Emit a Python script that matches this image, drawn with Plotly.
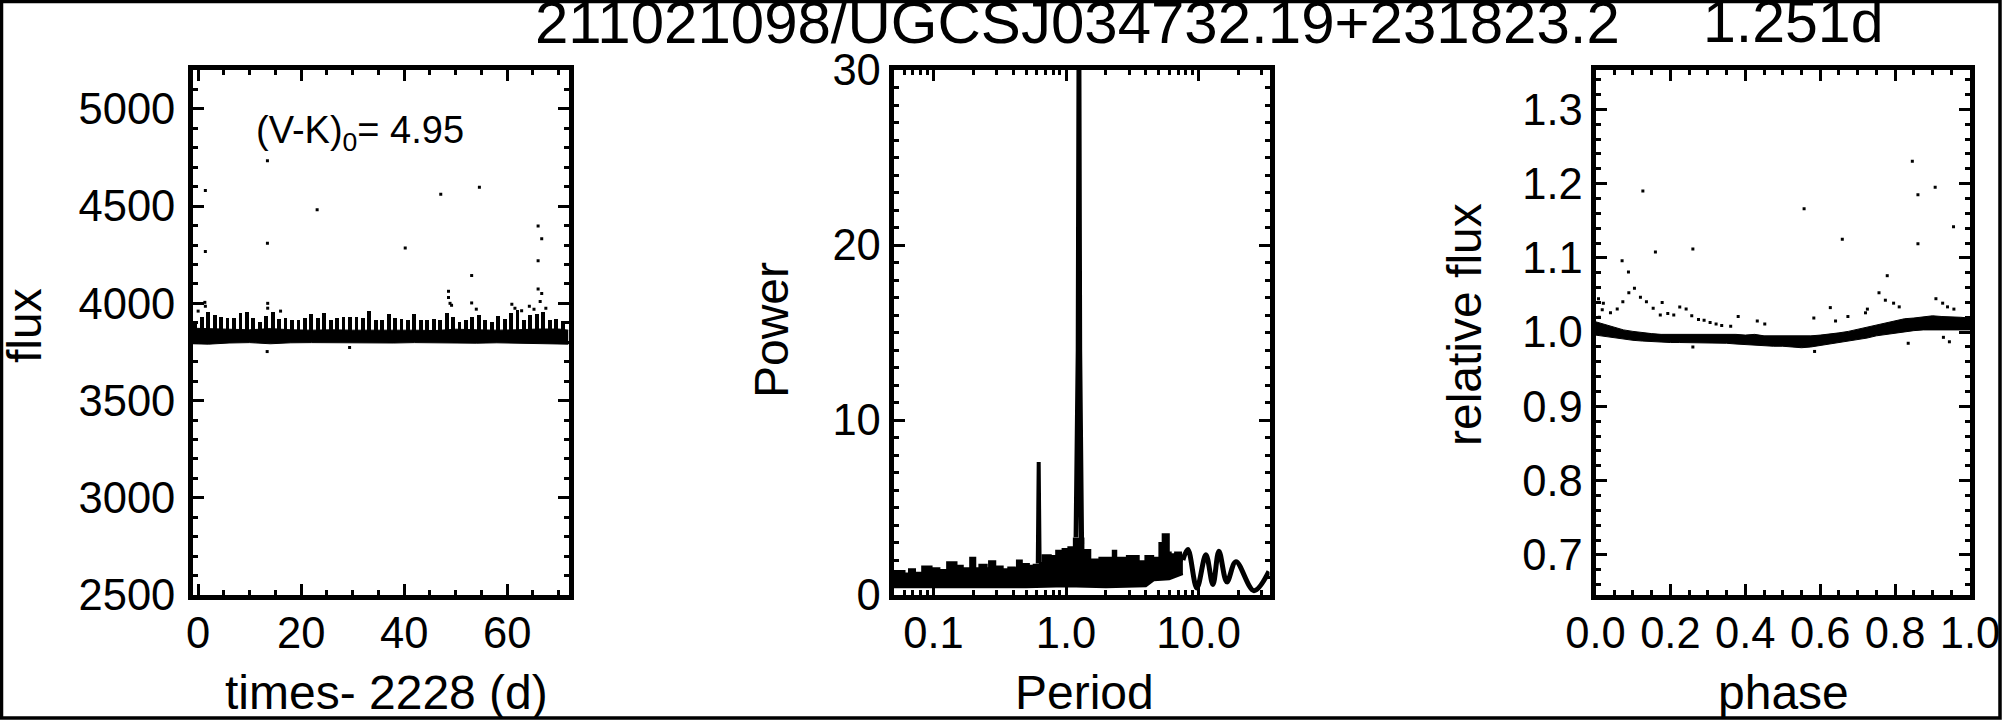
import plotly.graph_objects as go

W, H = 2005, 720
FONT = "Liberation Sans, Arial, Helvetica, sans-serif"

# ---------------- Panel 1: light curve (flux vs time) ----------------
lc_spike_time = [-0.55, 0.70, 1.95, 3.20, 4.45, 5.71, 6.96, 8.21, 9.46, 10.71,
                 11.96, 13.21, 14.46, 15.71, 16.96, 18.22, 19.47, 20.72, 21.97, 23.22,
                 24.47, 25.72, 26.97, 28.22, 29.47, 30.73, 31.98, 33.23, 34.48, 35.73,
                 36.98, 38.23, 39.48, 40.73, 41.98, 43.24, 44.49, 45.74, 46.99, 48.24,
                 49.49, 50.74, 51.99, 53.24, 54.49, 55.75, 57.00, 58.25, 59.50, 60.75,
                 62.00, 63.25, 64.50, 65.75, 67.00, 68.26, 69.51, 70.76]
lc_spike_top = [3900, 3930, 3958, 3940, 3932, 3923, 3925, 3949, 3958, 3923,
                3906, 3935, 3958, 3920, 3923, 3915, 3915, 3923, 3945, 3923,
                3949, 3915, 3925, 3932, 3932, 3932, 3923, 3963, 3915, 3915,
                3944, 3923, 3920, 3915, 3945, 3915, 3915, 3920, 3915, 3949,
                3932, 3906, 3915, 3932, 3940, 3915, 3906, 3935, 3920, 3949,
                3966, 3915, 3940, 3945, 3958, 3915, 3918, 3910]
lc_core_time = [-1.0, 2, 6, 10, 14, 18, 22, 26, 30, 34, 38, 42, 46, 50, 54, 58, 62, 66, 70, 71.9]
lc_core_high = [3872, 3870, 3866, 3864, 3870, 3864, 3862, 3864, 3862, 3862,
                3864, 3862, 3860, 3867, 3864, 3862, 3864, 3868, 3868, 3862]
lc_core_low = [3792, 3790, 3796, 3798, 3792, 3797, 3798, 3797, 3795, 3797,
               3796, 3798, 3797, 3795, 3795, 3797, 3796, 3795, 3794, 3790]
lc_out_time = [1.4, 1.4, 13.45, 13.45, 23.1, 40.2, 47.1, 54.6, 53.1, 66.0,
               66.0, 66.7, 48.6, 48.6, 53.1, 60.9, 66.0, 66.7, 66.4, 1.3,
               1.4, 13.5, 13.5, 61.5, 64.3, 65.2, 29.4, 13.4, 0.0, 16.0,
               49.2, 67.5, 62.8, 48.9, 54.0]
lc_out_flux = [4580, 4266, 4733, 4309, 4481, 4285, 4561, 4597, 4143, 4398,
               4219, 4332, 4062, 4030, 4002, 3995, 4074, 4050, 4010, 4005,
               3985, 4000, 3975, 3975, 3985, 3970, 3773, 3752, 3960, 3960,
               3990, 3975, 3962, 4000, 3970]

# ---------------- Panel 2: periodogram (power vs period) ----------------
pg_top_period = [0.050, 0.060, 0.066, 0.072, 0.083, 0.096, 0.110, 0.128, 0.148, 0.165,
                 0.184, 0.191, 0.205, 0.224, 0.250, 0.265, 0.290, 0.330, 0.370, 0.407,
                 0.430, 0.460, 0.520, 0.575, 0.640, 0.670, 0.760, 0.850, 0.950, 1.05,
                 1.155, 1.34, 1.51, 1.80, 2.27, 2.37, 2.9, 3.5, 4.0, 4.5,
                 5.1, 5.4, 5.9, 6.1, 6.7, 7.3, 7.6]
pg_top_power = [1.35, 1.2, 1.45, 1.25, 1.6, 1.5, 1.4, 1.85, 1.65, 1.5,
                1.3, 2.1, 1.5, 1.7, 1.5, 1.9, 1.6, 1.45, 1.55, 1.5,
                1.95, 1.75, 1.65, 1.7, 1.8, 2.25, 2.2, 2.5, 2.6, 2.7,
                3.2, 2.55, 2.0, 2.1, 2.5, 2.1, 2.2, 1.9, 2.2, 2.1,
                2.95, 3.45, 2.4, 2.3, 2.4, 2.0, 2.0]
pg_low_period = [0.050, 0.5, 1.0, 2.0, 4.0, 4.6, 6.0, 7.6]
pg_low_power = [0.45, 0.45, 0.5, 0.45, 0.5, 0.85, 0.9, 1.2]
pg_peak1_period = [0.612, 0.622, 0.632]
pg_peak1_power = [1.8, 7.6, 1.8]
pg_peak2_period = [1.19, 1.235, 1.251, 1.267, 1.31]
pg_peak2_power = [3.3, 14.0, 30.0, 14.0, 2.9]
pg_wig_period = [7.60, 8.29, 9.69, 11.33, 12.80, 14.21, 16.32, 19.09, 26.10, 33.87]
pg_wig_power = [2.0, 2.6, 0.4, 2.3, 0.6, 2.5, 0.75, 1.9, 0.25, 1.35]

# ---------------- Panel 3: phase-folded light curve ----------------
ph_phase = [0.000, 0.025, 0.050, 0.075, 0.100, 0.125, 0.150, 0.175, 0.200, 0.225,
            0.250, 0.275, 0.300, 0.325, 0.350, 0.375, 0.400, 0.425, 0.450, 0.475,
            0.500, 0.525, 0.550, 0.575, 0.600, 0.625, 0.650, 0.675, 0.700, 0.725,
            0.750, 0.775, 0.800, 0.825, 0.850, 0.875, 0.900, 0.925, 0.950, 0.975, 1.000]
ph_upper = [1.014, 1.010, 1.006, 1.003, 1.001, 0.999, 0.998, 0.997, 0.997, 0.998,
            0.997, 0.998, 0.998, 0.997, 0.998, 0.997, 0.996, 0.997, 0.995, 0.995,
            0.994, 0.994, 0.994, 0.995, 0.996, 0.998, 0.999, 1.001, 1.004, 1.006,
            1.009, 1.012, 1.015, 1.018, 1.019, 1.021, 1.022, 1.021, 1.020, 1.020, 1.019]
ph_lower = [0.996, 0.994, 0.992, 0.990, 0.989, 0.988, 0.987, 0.986, 0.986, 0.986,
            0.986, 0.986, 0.986, 0.985, 0.985, 0.984, 0.983, 0.982, 0.981, 0.981,
            0.981, 0.980, 0.979, 0.980, 0.982, 0.984, 0.986, 0.988, 0.990, 0.992,
            0.995, 0.997, 0.999, 1.001, 1.002, 1.003, 1.003, 1.003, 1.003, 1.003, 1.003]
ph_out_phase = [0.1265, 0.160, 0.260, 0.071, 0.088, 0.104, 0.089, 0.073, 0.058, 0.040,
                0.021, 0.018, 0.120, 0.136, 0.154, 0.173, 0.178, 0.193, 0.209, 0.225,
                0.242, 0.257, 0.275, 0.290, 0.306, 0.322, 0.337, 0.361, 0.381, 0.432,
                0.452, 0.260, 0.557, 0.583, 0.585, 0.627, 0.641, 0.659, 0.674, 0.721,
                0.726, 0.757, 0.774, 0.779, 0.796, 0.811, 0.835, 0.846, 0.861, 0.861,
                0.907, 0.909, 0.927, 0.940, 0.956, 0.957, 0.945, 0.929, 0.008, 0.010]
ph_out_flux = [1.190, 1.108, 1.112, 1.096, 1.081, 1.059, 1.053, 1.041, 1.031, 1.026,
               1.039, 1.030, 1.047, 1.041, 1.032, 1.023, 1.040, 1.025, 1.023, 1.034,
               1.031, 1.022, 1.017, 1.016, 1.013, 1.011, 1.009, 1.008, 1.021, 1.015,
               1.011, 0.980, 1.166, 1.019, 0.974, 1.033, 1.015, 1.125, 1.021, 1.026,
               1.031, 1.053, 1.043, 1.076, 1.039, 1.034, 0.985, 1.230, 1.185, 1.119,
               1.195, 1.045, 1.039, 1.034, 1.142, 1.031, 0.987, 0.993, 1.045, 1.020]

title_left = "211021098/UGCSJ034732.19+231823.2"
title_right = "1.251d"

fig = go.Figure()
K = "black"

# Panel 1 traces
fig.add_trace(go.Scatter(x=lc_core_time, y=lc_core_low, mode="lines",
                         line=dict(color=K, width=1), xaxis="x", yaxis="y"))
fig.add_trace(go.Scatter(x=lc_core_time, y=lc_core_high, mode="lines", fill="tonexty",
                         fillcolor=K, line=dict(color=K, width=1), xaxis="x", yaxis="y"))
spike_base = 3845
fig.add_trace(go.Bar(x=lc_spike_time, y=[v - spike_base for v in lc_spike_top], base=spike_base,
                     width=0.75, marker=dict(color=K, line=dict(width=0)), xaxis="x", yaxis="y"))
fig.add_trace(go.Scatter(x=lc_out_time, y=lc_out_flux, mode="markers",
                         marker=dict(color=K, size=3, symbol="square"), xaxis="x", yaxis="y"))

# Panel 2 traces
fig.add_trace(go.Scatter(x=pg_low_period, y=pg_low_power, mode="lines",
                         line=dict(color=K, width=2), xaxis="x2", yaxis="y2"))
fig.add_trace(go.Scatter(x=pg_top_period, y=pg_top_power, mode="lines", fill="tonexty",
                         fillcolor=K, line=dict(color=K, width=3, shape="hv"), xaxis="x2", yaxis="y2"))
fig.add_trace(go.Scatter(x=pg_peak1_period, y=pg_peak1_power, mode="lines",
                         line=dict(color=K, width=4), xaxis="x2", yaxis="y2"))
fig.add_trace(go.Scatter(x=pg_peak2_period, y=pg_peak2_power, mode="lines",
                         line=dict(color=K, width=5), xaxis="x2", yaxis="y2"))
fig.add_trace(go.Scatter(x=pg_wig_period, y=pg_wig_power, mode="lines",
                         line=dict(color=K, width=5, shape="spline"), xaxis="x2", yaxis="y2"))

# Panel 3 traces
fig.add_trace(go.Scatter(x=ph_phase, y=ph_lower, mode="lines",
                         line=dict(color=K, width=1), xaxis="x3", yaxis="y3"))
fig.add_trace(go.Scatter(x=ph_phase, y=ph_upper, mode="lines", fill="tonexty",
                         fillcolor=K, line=dict(color=K, width=1), xaxis="x3", yaxis="y3"))
fig.add_trace(go.Scatter(x=ph_out_phase, y=ph_out_flux, mode="markers",
                         marker=dict(color=K, size=3, symbol="square"), xaxis="x3", yaxis="y3"))

TICK = 43.5


def ax(**kw):
    d = dict(showline=True, linewidth=5, linecolor=K, mirror="allticks", ticks="inside",
             ticklen=11, tickwidth=3, tickcolor=K, showgrid=False, zeroline=False,
             tickfont=dict(family=FONT, size=TICK, color=K), automargin=False, fixedrange=True)
    d.update(kw)
    return d


def minor(**kw):
    d = dict(ticks="inside", ticklen=5, tickwidth=2.5, tickcolor=K, showgrid=False)
    d.update(kw)
    return d


def px_x(p):
    return p / W


def px_y(p):
    return 1 - p / H


ydom = [px_y(595), px_y(70)]
log_minor = [0.06, 0.07, 0.08, 0.09, 0.2, 0.3, 0.4, 0.5, 0.6, 0.7, 0.8, 0.9,
             2, 3, 4, 5, 6, 7, 8, 9, 20, 30]

fig.update_layout(
    width=W, height=H, margin=dict(l=0, r=0, t=0, b=0),
    paper_bgcolor="white", plot_bgcolor="white", showlegend=False,
    font=dict(family=FONT, color=K),
    xaxis=ax(domain=[px_x(193), px_x(568.5)], range=[-1.0, 71.9], tick0=0, dtick=20,
             anchor="y", ticklabelstandoff=-4, minor=minor(dtick=5)),
    yaxis=ax(domain=ydom, range=[2500, 5200], tick0=0, dtick=500, anchor="x",
             ticklabelstandoff=4, minor=minor(dtick=100)),
    xaxis2=ax(domain=[px_x(893.5), px_x(1269.5)], type="log", range=[-1.301, 1.534],
              tickmode="array", tickvals=[0.1, 1, 10], ticktext=["0.1", "1.0", "10.0"],
              anchor="y2", ticklabelstandoff=-4, minor=minor(tickmode="array", tickvals=log_minor)),
    yaxis2=ax(domain=ydom, range=[0, 30], tick0=0, dtick=10, anchor="x2",
              ticklabelstandoff=-1, minor=minor(dtick=1)),
    xaxis3=ax(domain=[px_x(1595.5), px_x(1970)], range=[0, 1], tick0=0, dtick=0.2,
              tickformat=".1f", anchor="y3", ticklabelstandoff=-4, minor=minor(dtick=0.05)),
    yaxis3=ax(domain=ydom, range=[0.646, 1.353], tick0=0, dtick=0.1, tickformat=".1f",
              anchor="x3", ticklabelstandoff=-1, minor=minor(dtick=0.02)),
    bargap=0,
)

ann = []


def text(x, y, s, size, xanchor="center", yanchor="middle", angle=0):
    ann.append(dict(x=px_x(x), y=px_y(y), xref="paper", yref="paper", text=s, showarrow=False,
                    xanchor=xanchor, yanchor=yanchor, textangle=angle,
                    font=dict(family=FONT, size=size, color=K)))


text(1077, 22, title_left, 60)
text(1793, 22, title_right, 59)
text(254, 107, "(V-K)<sub>0</sub>= 4.95", 38, xanchor="left", yanchor="top")
text(386, 692, "times- 2228 (d)", 48)
text(1084, 692, "Period", 48)
text(1783, 692, "phase", 48)
text(25, 326, "flux", 48, angle=-90)
text(772, 330, "Power", 48, angle=-90)
text(1465, 325, "relative flux", 48, angle=-90)
fig.update_layout(annotations=ann)

fig.add_shape(type="rect", xref="paper", yref="paper",
              x0=px_x(1.5), x1=px_x(2000), y0=px_y(718), y1=px_y(1.5),
              line=dict(color=K, width=3.5), fillcolor="rgba(0,0,0,0)", layer="above")

fig.write_html("out.html", config={"displayModeBar": False},
               post_script="document.body.style.margin='0';document.body.style.overflow='hidden';")
